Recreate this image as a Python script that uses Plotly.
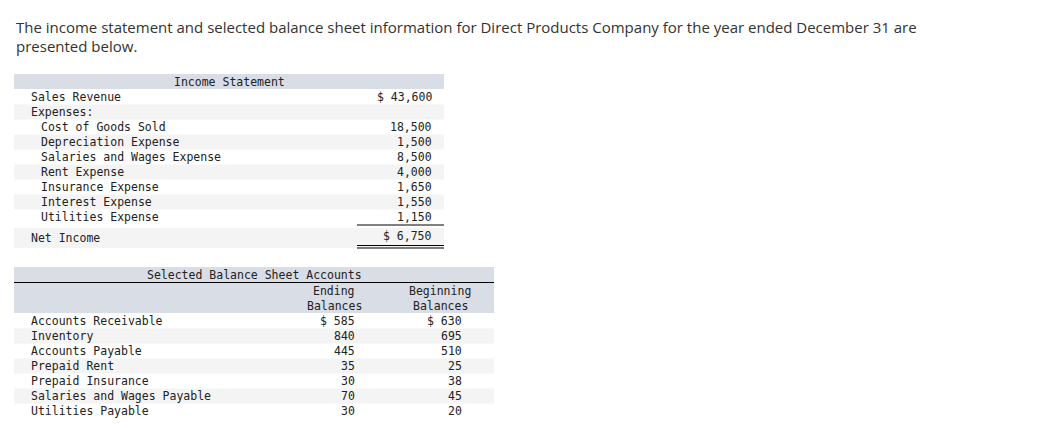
import plotly.graph_objects as go

# Texto del enunciado
intro = ["The income statement and selected balance sheet information for Direct Products Company for the year ended December 31 are",
         "presented below."]

# Estado de resultados
is_labels = ["Sales Revenue", "Expenses:", "Cost of Goods Sold", "Depreciation Expense",
             "Salaries and Wages Expense", "Rent Expense", "Insurance Expense",
             "Interest Expense", "Utilities Expense"]
is_indent = [0, 0, 1, 1, 1, 1, 1, 1, 1]
is_values = ["$ 43,600", "", "18,500", "1,500", "8,500", "4,000", "1,650", "1,550", "1,150"]
net_label = "Net Income"
net_value = "$ 6,750"

# Cuentas de balance
bs_labels = ["Accounts Receivable", "Inventory", "Accounts Payable", "Prepaid Rent",
             "Prepaid Insurance", "Salaries and Wages Payable", "Utilities Payable"]
bs_ending = ["$ 585", "840", "445", "35", "30", "70", "30"]
bs_beginning = ["$ 630", "695", "510", "25", "38", "45", "20"]

W, H = 1062, 428
OFF = 8  # margen del body de la página
MONO = "DejaVu Sans Mono"
HDR = "#d9dde6"
ALT = "#f4f4f4"
TXT = "#222222"

fig = go.Figure()
shapes = []
ann = []

def rect(x0, y0, x1, y1, color):
    shapes.append(dict(type="rect", x0=x0, x1=x1, y0=y0, y1=y1, fillcolor=color,
                       line=dict(width=0), layer="below"))

def hline(x0, x1, y, w=1):
    shapes.append(dict(type="line", x0=x0, x1=x1, y0=y, y1=y, line=dict(color="black", width=w)))

def txt(x, y, s, anchor="left", size=11.5, font=MONO, color=TXT):
    ann.append(dict(x=x, y=y, text=s, showarrow=False, xanchor=anchor, yanchor="middle",
                    font=dict(family=font, size=size, color=color)))

# Enunciado
for i, line in enumerate(intro):
    txt(14, 27 + i * 19, line, size=15, font="Open Sans", color="#333333")

# Tabla de resultados
rect(14, 74, 444, 89, HDR)
txt(229, 81.5, "Income Statement", anchor="center")
for i, (lab, ind, val) in enumerate(zip(is_labels, is_indent, is_values)):
    y = 97 + i * 15
    if i % 2 == 1:
        rect(14, y - 7.5, 444, y + 7.5, ALT)
    txt(29 + ind * 10, y, lab)
    txt(434, y, val, anchor="right")
rect(14, 228, 444, 248, ALT)
hline(357, 444, 225)
txt(29, 238, net_label)
txt(434, 236, net_value, anchor="right")
hline(357, 444, 245.5)
hline(357, 444, 248)

# Tabla de balance
rect(14, 267, 494, 282, HDR)
hline(14, 494, 282.5)
txt(254, 274.5, "Selected Balance Sheet Accounts", anchor="center")
rect(14, 283, 494, 313, HDR)
txt(334, 291, "Ending", anchor="center")
txt(334, 306, "Balances", anchor="center")
txt(440, 291, "Beginning", anchor="center")
txt(440, 306, "Balances", anchor="center")
for i, (lab, e, b) in enumerate(zip(bs_labels, bs_ending, bs_beginning)):
    y = 321 + i * 15
    if i % 2 == 1:
        rect(14, y - 7.5, 494, y + 7.5, ALT)
    txt(29, y, lab)
    txt(357, y, e, anchor="right")
    txt(464, y, b, anchor="right")

fig.update_layout(
    width=W, height=H, margin=dict(l=0, r=0, t=0, b=0),
    paper_bgcolor="white", plot_bgcolor="white",
    xaxis=dict(range=[OFF, W + OFF], visible=False, fixedrange=True),
    yaxis=dict(range=[H + OFF, OFF], visible=False, fixedrange=True),
    shapes=shapes, annotations=ann, showlegend=False,
)
fig.write_html("out.html")
